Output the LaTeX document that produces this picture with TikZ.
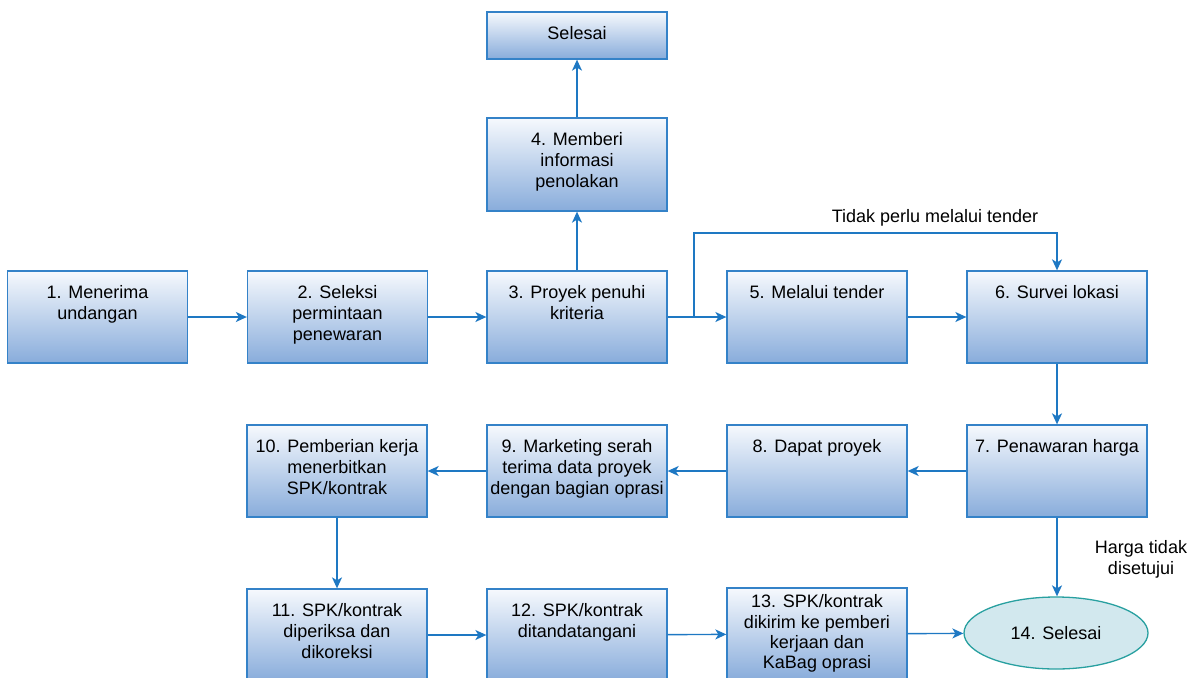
\documentclass[tikz,border=0pt]{standalone}
\usepackage{fontspec}
\setmainfont{Liberation Sans}
\usetikzlibrary{arrows.meta,shapes.geometric}
\definecolor{bord}{RGB}{52,130,200}
\definecolor{arr}{RGB}{30,120,195}
\definecolor{ftop}{RGB}{246,249,253}
\definecolor{fbot}{RGB}{136,172,219}
\definecolor{efill}{RGB}{210,232,238}
\definecolor{eline}{RGB}{40,160,160}
\begin{document}
\begin{tikzpicture}[x=1pt,y=-1pt,
  box/.style={draw=bord, line width=1.3pt, top color=ftop, bottom color=fbot,
    minimum width=180pt, minimum height=92pt, inner sep=0pt},
  txt/.style={anchor=north, align=center, inner sep=0pt, font=\fontsize{18}{21}\selectfont},
  lab/.style={align=center, inner sep=0pt, font=\fontsize{18}{21}\selectfont},
  flow/.style={draw=arr, line width=1.4pt, -{Stealth[length=11pt,width=10pt,inset=3pt]}},
  plain/.style={draw=arr, line width=1.4pt}]
\useasboundingbox (0,0) rectangle (1193,677);
\clip (0,0) rectangle (1193,677);

% top
\node[box, minimum height=47pt] (bs) at (577,35.5) {};
\node[txt] (ts) at ([yshift=-13.5pt]bs.north) {\strut Selesai};
\node[box, minimum height=93pt] (b4) at (577,164.5) {};
\node[txt] (t4) at ([yshift=-13.5pt]b4.north) {\strut 4. Memberi\\informasi\\penolakan};

% row 1
\node[box] (b1) at (97.5,317) {};
\node[txt] (t1) at ([yshift=-13.5pt]b1.north) {\strut 1. Menerima\\undangan};
\node[box] (b2) at (337.5,317) {};
\node[txt] (t2) at ([yshift=-13.5pt]b2.north) {\strut 2. Seleksi\\permintaan\\penewaran};
\node[box] (b3) at (577,317) {};
\node[txt] (t3) at ([yshift=-13.5pt]b3.north) {\strut 3. Proyek penuhi\\kriteria};
\node[box] (b5) at (817,317) {};
\node[txt] (t5) at ([yshift=-13.5pt]b5.north) {\strut 5. Melalui tender};
\node[box] (b6) at (1057,317) {};
\node[txt] (t6) at ([yshift=-13.5pt]b6.north) {\strut 6. Survei lokasi};

% row 2
\node[box] (b10) at (337,471) {};
\node[txt] (t10) at ([yshift=-13.5pt]b10.north) {\strut 10. Pemberian kerja\\menerbitkan\\SPK/kontrak};
\node[box] (b9) at (577,471) {};
\node[txt] (t9) at ([yshift=-13.5pt]b9.north) {\strut 9. Marketing serah\\terima data proyek\\dengan bagian oprasi};
\node[box] (b8) at (817,471) {};
\node[txt] (t8) at ([yshift=-13.5pt]b8.north) {\strut 8. Dapat proyek};
\node[box] (b7) at (1057,471) {};
\node[txt] (t7) at ([yshift=-13.5pt]b7.north) {\strut 7. Penawaran harga};

% row 3
\node[box] (b11) at (337,635) {};
\node[txt] (t11) at ([yshift=-13.5pt]b11.north) {\strut 11. SPK/kontrak\\diperiksa dan\\dikoreksi};
\node[box] (b12) at (577,635) {};
\node[txt] (t12) at ([yshift=-13.5pt]b12.north) {\strut 12. SPK/kontrak\\ditandatangani};
\node[box] (b13) at (817,634) {};
\node[txt, font=\fontsize{18}{20.3}\selectfont] (t13) at ([yshift=-6pt]b13.north) {\strut 13. SPK/kontrak\\dikirim ke pemberi\\kerjaan dan\\KaBag oprasi};
\node[ellipse, draw=eline, fill=efill, line width=1.3pt, minimum width=184pt,
  minimum height=72pt, inner sep=0pt, font=\fontsize{18}{21}\selectfont] (e14) at (1056,633) {14. Selesai};

% labels
\node[lab] (l1) at (935,218) {Tidak perlu melalui tender};
\node[lab] (l2) at (1141,559) {Harga tidak\\disetujui};

% connectors
\draw[flow] (b1) -- (b2);
\draw[flow] (b2) -- (b3);
\draw[flow] (b3) -- (b5);
\draw[flow] (b5) -- (b6);
\draw[flow] (b3) -- (b4);
\draw[flow] (b4) -- (bs);
\coordinate (br) at (694,317);
\coordinate (tp) at (694,233);
\draw[flow] (br) -- (tp) -| (b6.north);
\draw[flow] (b6) -- (b7);
\draw[flow] (b7) -- (b8);
\draw[flow] (b8) -- (b9);
\draw[flow] (b9) -- (b10);
\draw[flow] (b10) -- (b11);
\draw[flow] (b11) -- (b12);
\draw[flow] (b12) -- (b13);
\draw[flow] (b13) -- (e14);
\draw[flow] (b7.south) -- (b7.south |- e14.north);
\end{tikzpicture}
\end{document}
